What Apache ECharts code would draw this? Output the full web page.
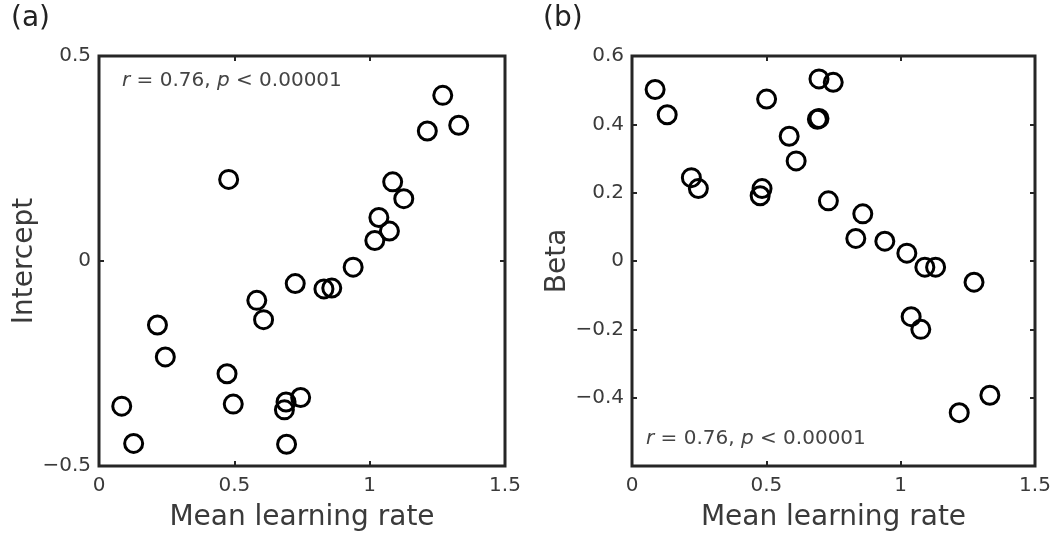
<!DOCTYPE html>
<html>
<head>
<meta charset="utf-8">
<script src="https://cdn.jsdelivr.net/npm/echarts@6/dist/echarts.min.js"></script>
<style>
html,body{margin:0;padding:0;background:#fff;}
#chart{width:1064px;height:537px;}
</style>
</head>
<body>
<div id="chart"></div>
<script>
// Mean learning rate per participant (panel a)
var learningRateA = [0.084, 0.128, 0.216, 0.245, 0.473, 0.479, 0.496, 0.583, 0.608, 0.685, 0.691, 0.693, 0.725, 0.745, 0.831, 0.860, 0.939, 1.019, 1.034, 1.073, 1.085, 1.126, 1.213, 1.270, 1.329];
var intercept     = [-0.354, -0.445, -0.156, -0.234, -0.275, 0.199, -0.349, -0.096, -0.143, -0.363, -0.344, -0.447, -0.055, -0.333, -0.068, -0.066, -0.015, 0.050, 0.106, 0.073, 0.193, 0.152, 0.317, 0.404, 0.331];
// Mean learning rate per participant (panel b)
var learningRateB = [0.086, 0.131, 0.221, 0.247, 0.477, 0.484, 0.501, 0.585, 0.611, 0.690, 0.696, 0.696, 0.731, 0.749, 0.833, 0.859, 0.941, 1.023, 1.039, 1.075, 1.090, 1.130, 1.218, 1.273, 1.332];
var beta          = [0.502, 0.428, 0.244, 0.212, 0.191, 0.212, 0.474, 0.365, 0.293, 0.415, 0.417, 0.533, 0.176, 0.523, 0.066, 0.138, 0.058, 0.023, -0.163, -0.200, -0.018, -0.018, -0.444, -0.062, -0.393];

var xTicks = [0, 0.5, 1, 1.5];
var yTicksA = [-0.5, 0, 0.5];
var yTicksB = [-0.6, -0.4, -0.2, 0, 0.2, 0.4, 0.6];
var panelTitles = ['(a)', '(b)'];
var xName = 'Mean learning rate';
var yNames = ['Intercept', 'Beta'];
var statText = '{i|r} = 0.76, {i|p} < 0.00001';

function pairs(xs, ys){ return xs.map(function(x,i){ return [x, ys[i]]; }); }

var FONT = 'DejaVu Sans';
var INK = '#262626';
var LBL = '#3a3a3a';

function fmtNum(v){
  if (Math.abs(v) < 1e-9) return '0';
  var s = String(Math.round(v*10)/10);
  return v < 0 ? '\u2212' + s.replace('-', '') : s;
}

function xAx(grid, pos, showLabel){
  return {
    gridIndex: grid, type: 'value', position: pos,
    min: xTicks[0], max: xTicks[xTicks.length-1], interval: 0.5,
    axisLine: {show: false, onZero: false},
    axisTick: {show: true, inside: true, length: 5, lineStyle: {color: INK, width: 2}},
    splitLine: {show: false},
    axisLabel: {show: showLabel, margin: 10, fontSize: 20, fontFamily: FONT, color: LBL,
      formatter: function(v){ return fmtNum(v); }},
    name: showLabel ? xName : '', nameLocation: 'middle', nameGap: 38,
    nameTextStyle: {fontSize: 28, fontFamily: FONT, color: LBL}
  };
}
function yAx(grid, pos, showLabel, ticks, interval, name, nameGap, hideMin){
  return {
    gridIndex: grid, type: 'value', position: pos,
    min: ticks[0], max: ticks[ticks.length-1], interval: interval,
    axisLine: {show: false, onZero: false},
    axisTick: {show: true, inside: true, length: 5, lineStyle: {color: INK, width: 2}},
    splitLine: {show: false},
    axisLabel: {show: showLabel, margin: 8, fontSize: 20, fontFamily: FONT, color: LBL,
      formatter: function(v){ if (hideMin && Math.abs(v - ticks[0]) < 1e-9) return ''; return fmtNum(v); }},
    name: showLabel ? name : '', nameLocation: 'middle', nameGap: nameGap,
    nameTextStyle: {fontSize: 28, fontFamily: FONT, color: LBL}
  };
}

var sym = {
  type: 'scatter', symbol: 'circle', symbolSize: 18,
  itemStyle: {color: 'rgba(0,0,0,0)', borderColor: '#000', borderWidth: 3, opacity: 1},
  emphasis: {disabled: true}, animation: false
};

var option = {
  animation: false,
  grid: [
    {left: 99, right: 559, top: 56, bottom: 71, show: true, borderColor: INK, borderWidth: 3, backgroundColor: 'transparent'},
    {left: 632, right: 29, top: 56, bottom: 71, show: true, borderColor: INK, borderWidth: 3, backgroundColor: 'transparent'}
  ],
  xAxis: [xAx(0, 'bottom', true), xAx(0, 'top', false), xAx(1, 'bottom', true), xAx(1, 'top', false)],
  yAxis: [
    yAx(0, 'left', true, yTicksA, 0.5, yNames[0], 60, false),
    yAx(0, 'right', false, yTicksA, 0.5, '', 0, false),
    yAx(1, 'left', true, yTicksB, 0.2, yNames[1], 60, true),
    yAx(1, 'right', false, yTicksB, 0.2, '', 0, true)
  ],
  series: [
    Object.assign({}, sym, {xAxisIndex: 0, yAxisIndex: 0, data: pairs(learningRateA, intercept)}),
    Object.assign({}, sym, {xAxisIndex: 2, yAxisIndex: 2, data: pairs(learningRateB, beta)})
  ],
  graphic: [
    {type: 'text', left: 11, top: 5, style: {text: panelTitles[0], fontSize: 28, fontFamily: FONT, fill: '#222'}},
    {type: 'text', left: 543, top: 5, style: {text: panelTitles[1], fontSize: 28, fontFamily: FONT, fill: '#222'}},
    {type: 'text', left: 122, top: 71, style: {text: statText, fontSize: 20, fontFamily: FONT, fill: '#444',
      rich: {i: {fontStyle: 'italic', fontSize: 20, fontFamily: FONT, fill: '#444'}}}},
    {type: 'text', left: 646, top: 429, style: {text: statText, fontSize: 20, fontFamily: FONT, fill: '#444',
      rich: {i: {fontStyle: 'italic', fontSize: 20, fontFamily: FONT, fill: '#444'}}}}
  ]
};

var chart = echarts.init(document.getElementById('chart'), null, {renderer: 'canvas'});
chart.setOption(option);
</script>
</body>
</html>
